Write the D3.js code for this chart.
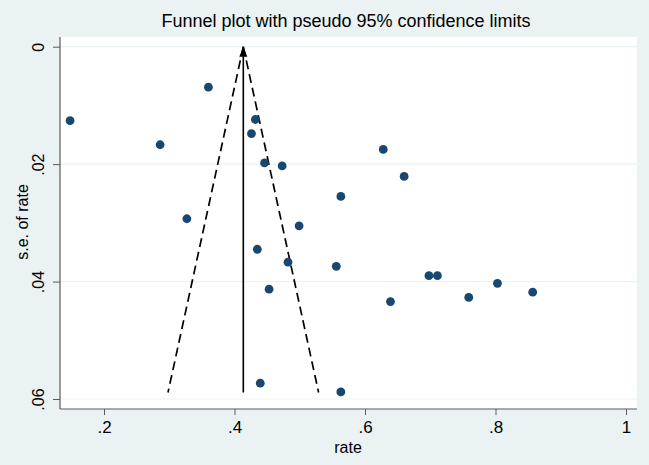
<!DOCTYPE html>
<html>
<head>
<meta charset="utf-8">
<script src="https://cdn.jsdelivr.net/npm/d3@7"></script>
<style>
  html, body { margin: 0; padding: 0; background: #eaf2f3; }
  svg { display: block; }
  text { font-family: Arial, "Liberation Sans", sans-serif; fill: #000; }
</style>
</head>
<body>
<svg id="chart" width="649" height="465"></svg>
<script>
// ---- data ----
const rate = [0.148, 0.360, 0.286, 0.432, 0.426, 0.446, 0.473, 0.563, 0.327, 0.499,
              0.628, 0.660, 0.698, 0.711, 0.639, 0.759, 0.803, 0.857, 0.4395, 0.563,
              0.435, 0.482, 0.556, 0.453];
const se   = [0.0126, 0.0069, 0.0167, 0.0124, 0.0148, 0.0198, 0.0203, 0.0255, 0.0293, 0.0305,
              0.0175, 0.0221, 0.0390, 0.0390, 0.0434, 0.0427, 0.0403, 0.0418, 0.0573, 0.0588,
              0.0345, 0.0367, 0.0374, 0.0413];
const xTicks = [0.2, 0.4, 0.6, 0.8, 1];
const xTickLabels = [".2", ".4", ".6", ".8", "1"];
const yTicks = [0, 0.02, 0.04, 0.06];
const yTickLabels = ["0", ".02", ".04", ".06"];
const pooled = 0.4135;
const seMax = 0.0589;
const zCrit = 1.96;
const titleText = "Funnel plot with pseudo 95% confidence limits";
const xTitle = "rate";
const yTitle = "s.e. of rate";

// ---- layout ----
const svg = d3.select("#chart");
const W = 649, H = 465;
const plot = { left: 60, right: 637, top: 37, bottom: 409 };

const x = d3.scaleLinear().domain([0.2, 1]).range([104, 626]);
const y = d3.scaleLinear().domain([0, 0.06]).range([46.7, 399]);

svg.append("rect").attr("width", W).attr("height", H).attr("fill", "#eaf2f3");
svg.append("rect")
  .attr("x", plot.left).attr("y", plot.top)
  .attr("width", plot.right - plot.left).attr("height", plot.bottom - plot.top)
  .attr("fill", "#ffffff");

// grid
svg.append("g").selectAll("line").data(yTicks).join("line")
  .attr("x1", plot.left).attr("x2", plot.right)
  .attr("y1", d => y(d)).attr("y2", d => y(d))
  .attr("stroke", "#eaf2f3").attr("stroke-width", 1.2);

// axes
const axisColor = "#5a5a5a";
const xAxis = d3.axisBottom(x).tickValues(xTicks)
  .tickFormat((d, i) => xTickLabels[i]).tickSize(6).tickPadding(6);
const gx = svg.append("g").attr("transform", `translate(0,${plot.bottom})`).call(xAxis);
gx.select(".domain").remove();
gx.selectAll(".tick line").attr("stroke", axisColor);
gx.selectAll(".tick text").attr("font-size", 17).attr("fill", "#000")
  .attr("font-family", "Arial, 'Liberation Sans', sans-serif");
svg.append("line").attr("x1", plot.left).attr("x2", plot.right)
  .attr("y1", plot.bottom).attr("y2", plot.bottom)
  .attr("stroke", axisColor).attr("stroke-width", 1.2);

const yAxis = d3.axisLeft(y).tickValues(yTicks)
  .tickFormat((d, i) => yTickLabels[i]).tickSize(7).tickPadding(4);
const gy = svg.append("g").attr("transform", `translate(${plot.left},0)`).call(yAxis);
gy.select(".domain").remove();
gy.selectAll(".tick line").attr("stroke", axisColor);
gy.selectAll(".tick text")
  .attr("font-size", 16).attr("fill", "#000")
  .attr("font-family", "Arial, 'Liberation Sans', sans-serif")
  .attr("text-anchor", "middle").attr("dy", null)
  .attr("transform", "translate(-16,0) rotate(-90)")
  .attr("x", 0).attr("y", 0);
svg.append("line").attr("x1", plot.left).attr("x2", plot.left)
  .attr("y1", plot.top).attr("y2", plot.bottom)
  .attr("stroke", axisColor).attr("stroke-width", 1.2);

// titles
svg.append("text").attr("x", 346).attr("y", 27).attr("text-anchor", "middle")
  .attr("font-size", 18).text(titleText);
svg.append("text").attr("x", 348).attr("y", 453).attr("text-anchor", "middle")
  .attr("font-size", 16).text(xTitle);
svg.append("text").attr("transform", "translate(28,222) rotate(-90)")
  .attr("text-anchor", "middle").attr("font-size", 16).text(yTitle);

// funnel
const defs = svg.append("defs");
defs.append("marker").attr("id", "arrow")
  .attr("viewBox", "0 0 10 10").attr("refX", 10).attr("refY", 5)
  .attr("markerWidth", 10).attr("markerHeight", 10)
  .attr("markerUnits", "userSpaceOnUse").attr("orient", "auto")
  .append("path").attr("d", "M0,1 L10,5 L0,9 z").attr("fill", "#000");

const funnelLeft = [[pooled, 0], [pooled - zCrit * seMax, seMax]];
const funnelRight = [[pooled, 0], [pooled + zCrit * seMax, seMax]];
const line = d3.line().x(d => x(d[0])).y(d => y(d[1]));
[funnelLeft, funnelRight].forEach(p => {
  svg.append("path").attr("d", line(p)).attr("fill", "none")
    .attr("stroke", "#000").attr("stroke-width", 1.7)
    .attr("stroke-dasharray", "9,5");
});
svg.append("path").attr("d", line([[pooled, seMax], [pooled, 0]]))
  .attr("stroke", "#000").attr("stroke-width", 1.6)
  .attr("marker-end", "url(#arrow)");

// points
svg.append("g").selectAll("circle").data(rate.map((r, i) => [r, se[i]])).join("circle")
  .attr("cx", d => x(d[0])).attr("cy", d => y(d[1])).attr("r", 4.4)
  .attr("fill", "#1a476f");
</script>
</body>
</html>
